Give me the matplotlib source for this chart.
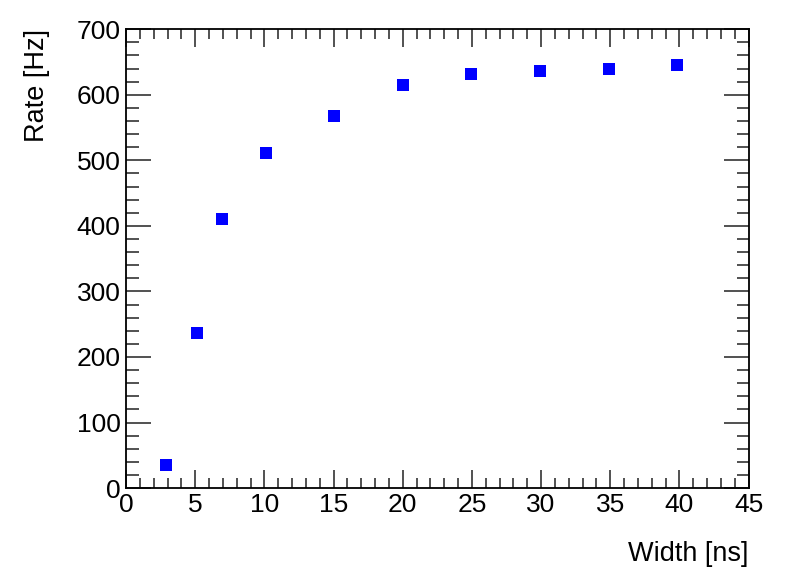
import matplotlib.pyplot as plt
from matplotlib.ticker import MultipleLocator

plt.rcParams['font.family'] = ['Liberation Sans', 'DejaVu Sans']

# data
width = [2.9, 5.1, 6.95, 10.1, 15.0, 20.0, 24.95, 29.9, 34.9, 39.8]
rate = [35, 236, 411, 511, 567, 615, 632, 636, 639, 645]

fig = plt.figure(figsize=(7.88, 5.81), dpi=100)
ax = fig.add_axes([0.16, 0.16, 0.79, 0.7896])

ax.plot(width, rate, 's', color='#0000ff', markersize=8.4, markeredgewidth=0)

ax.set_xlim(0, 45)
ax.set_ylim(0, 700)
ax.xaxis.set_major_locator(MultipleLocator(5))
ax.xaxis.set_minor_locator(MultipleLocator(1))
ax.yaxis.set_major_locator(MultipleLocator(100))
ax.yaxis.set_minor_locator(MultipleLocator(20))

ax.tick_params(axis='both', which='both', direction='in', top=True, right=True,
               width=1.2, color='#333333', labelsize=19)
ax.tick_params(axis='x', which='major', length=13, pad=3.5)
ax.tick_params(axis='x', which='minor', length=7)
ax.tick_params(axis='y', which='major', length=18, pad=4)
ax.tick_params(axis='y', which='minor', length=9)
for s in ax.spines.values():
    s.set_linewidth(1.3)

ax.set_xlabel('Width [ns]', fontsize=19.5, loc='right', labelpad=17)
ax.set_ylabel('Rate [Hz]', fontsize=19.5, loc='top', labelpad=19)

fig.savefig('out.png', dpi=100)
